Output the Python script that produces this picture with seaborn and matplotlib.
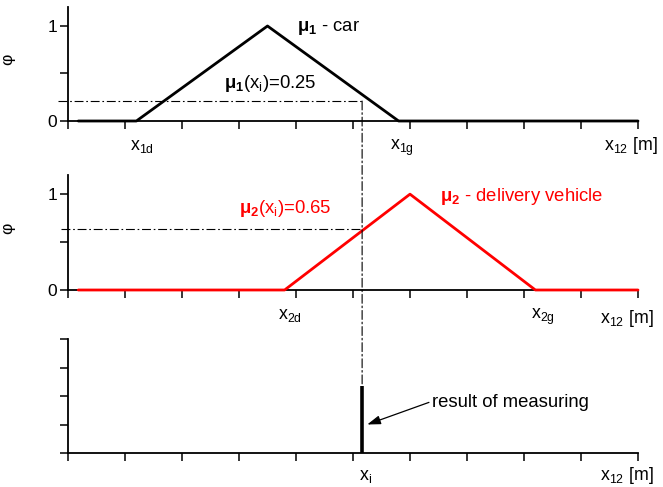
import numpy as np
import pandas as pd
import matplotlib
matplotlib.use("Agg")
import matplotlib.pyplot as plt
import seaborn as sns
from matplotlib.patches import ConnectionPatch

# ---- data ----
x_mu1 = [0.18, 1.2, 3.5, 5.8, 10.0]
mu1 = [0.0, 0.0, 1.0, 0.0, 0.0]
x_mu2 = [0.18, 3.8, 6.0, 8.2, 10.0]
mu2 = [0.0, 0.0, 1.0, 0.0, 0.0]
x_i = 5.16
mu1_at_xi = 0.21      # level of drawn dash-dot line (label says 0.25)
mu2_at_xi = 0.64
measure_height = 0.59
x_ticks = list(range(0, 11))
phi_ticks = [0, 0.5, 1]
phi_labels = ["0", "", "1"]
meas_ticks = [0, 0.25, 0.5, 0.75, 1.0]

sns.set_style("ticks")
plt.rcParams["font.family"] = ["Liberation Sans", "DejaVu Sans"]
plt.rcParams["mathtext.fontset"] = "custom"
plt.rcParams["mathtext.rm"] = "Liberation Sans"
plt.rcParams["mathtext.it"] = "Liberation Sans:italic"
plt.rcParams["mathtext.bf"] = "Liberation Sans:bold"
for k in ("text.color", "axes.labelcolor", "xtick.color", "ytick.color", "axes.edgecolor"):
    plt.rcParams[k] = "black"

W, H = 663, 487
fig = plt.figure(figsize=(W / 100, H / 100), dpi=100)

def px_axes(left, right, top, bottom):
    return fig.add_axes([left / W, 1 - bottom / H, (right - left) / W, (bottom - top) / H])

ax1 = px_axes(68, 638, 7, 121)
ax2 = px_axes(68, 638, 175, 290)
ax3 = px_axes(68, 638, 339, 453)

df1 = pd.DataFrame({"x": x_mu1, "mu": mu1})
df2 = pd.DataFrame({"x": x_mu2, "mu": mu2})
sns.lineplot(data=df1, x="x", y="mu", ax=ax1, color="black", lw=2.0, clip_on=False, zorder=5)
sns.lineplot(data=df2, x="x", y="mu", ax=ax2, color="#ff0000", lw=2.0, clip_on=False, zorder=5)

FS = 13.3
TFS = 12.5
XFS = 12.8
for ax in (ax1, ax2, ax3):
    ax.set_xlim(0, 10)
    ax.set_xticks(x_ticks)
    ax.set_xticklabels([])
    ax.set_xlabel("")
    ax.tick_params(axis="both", direction="out", length=6, width=1.1, color="black",
                   labelcolor="black", labelsize=TFS, pad=2)
    for s in ("top", "right"):
        ax.spines[s].set_visible(False)
    for s in ("left", "bottom"):
        ax.spines[s].set_linewidth(1.3)
        ax.spines[s].set_color("black")

for ax in (ax1, ax2):
    ax.set_ylim(0, 1.2)
    ax.set_yticks(phi_ticks)
    ax.set_yticklabels(phi_labels)
    ax.set_ylabel("φ", fontsize=TFS, rotation=90, color="black")
    ax.yaxis.set_label_coords(-0.093, 0.54)

ax3.set_ylim(0, 1.0)
ax3.set_yticks(meas_ticks)
ax3.set_yticklabels([])
ax3.set_ylabel("")

# dash-dot guide lines
dd = (0, (8, 2.5, 1.5, 2.5))
ax1.plot([-0.175, x_i], [mu1_at_xi, mu1_at_xi], color="black", lw=0.8, ls=dd, clip_on=False)
ax2.plot([-0.12, x_i], [mu2_at_xi, mu2_at_xi], color="black", lw=0.8, ls=dd, clip_on=False)
con = ConnectionPatch(xyA=(x_i, mu1_at_xi), coordsA=ax1.transData,
                      xyB=(x_i, measure_height), coordsB=ax3.transData,
                      color="black", lw=0.8, ls=dd)
fig.add_artist(con)

# measurement bar
ax3.vlines([x_i], 0, [measure_height], color="black", lw=2.6, zorder=5)
ax3.annotate("result of measuring", xy=(5.25, 0.25), xytext=(6.39, 0.40),
             fontsize=FS, va="baseline", ha="left",
             arrowprops=dict(arrowstyle="-|>,head_length=0.6,head_width=0.2",
                             color="black", lw=0.9, shrinkA=0, shrinkB=0,
                             relpos=(0, 0.6)))

# membership labels
ax1.text(4.02, 0.95, r"$\mathbf{\mu_1}$ - car", fontsize=FS, va="baseline")
ax1.text(2.74, 0.35, r"$\mathbf{\mu_1}$(x$_\mathregular{i}$)=0.25", fontsize=FS, va="baseline")
ax2.text(3.0, 0.80, r"$\mathbf{\mu_2}$(x$_\mathregular{i}$)=0.65", fontsize=FS, va="baseline", color="#ff0000")
ax2.text(6.53, 0.93, r"$\mathbf{\mu_2}$ - delivery vehicle", fontsize=FS, va="baseline", color="#ff0000")

# x-axis point labels
def xl(ax, x, s, y=-0.255):
    ax.text(x, y, s, transform=ax.get_xaxis_transform(), fontsize=XFS, va="baseline", ha="left")

xl(ax1, 1.09, r"x$_\mathregular{1d}$")
xl(ax1, 5.65, r"x$_\mathregular{1g}$")
xl(ax1, 9.4, r"x$_\mathregular{12}$ [m]")
xl(ax2, 3.68, r"x$_\mathregular{2d}$")
xl(ax2, 8.12, r"x$_\mathregular{2g}$")
xl(ax2, 9.33, r"x$_\mathregular{12}$ [m]", y=-0.29)
xl(ax3, 5.1, r"x$_\mathregular{i}$", y=-0.24)
xl(ax3, 9.33, r"x$_\mathregular{12}$ [m]", y=-0.24)

fig.savefig("out.png", dpi=100)
